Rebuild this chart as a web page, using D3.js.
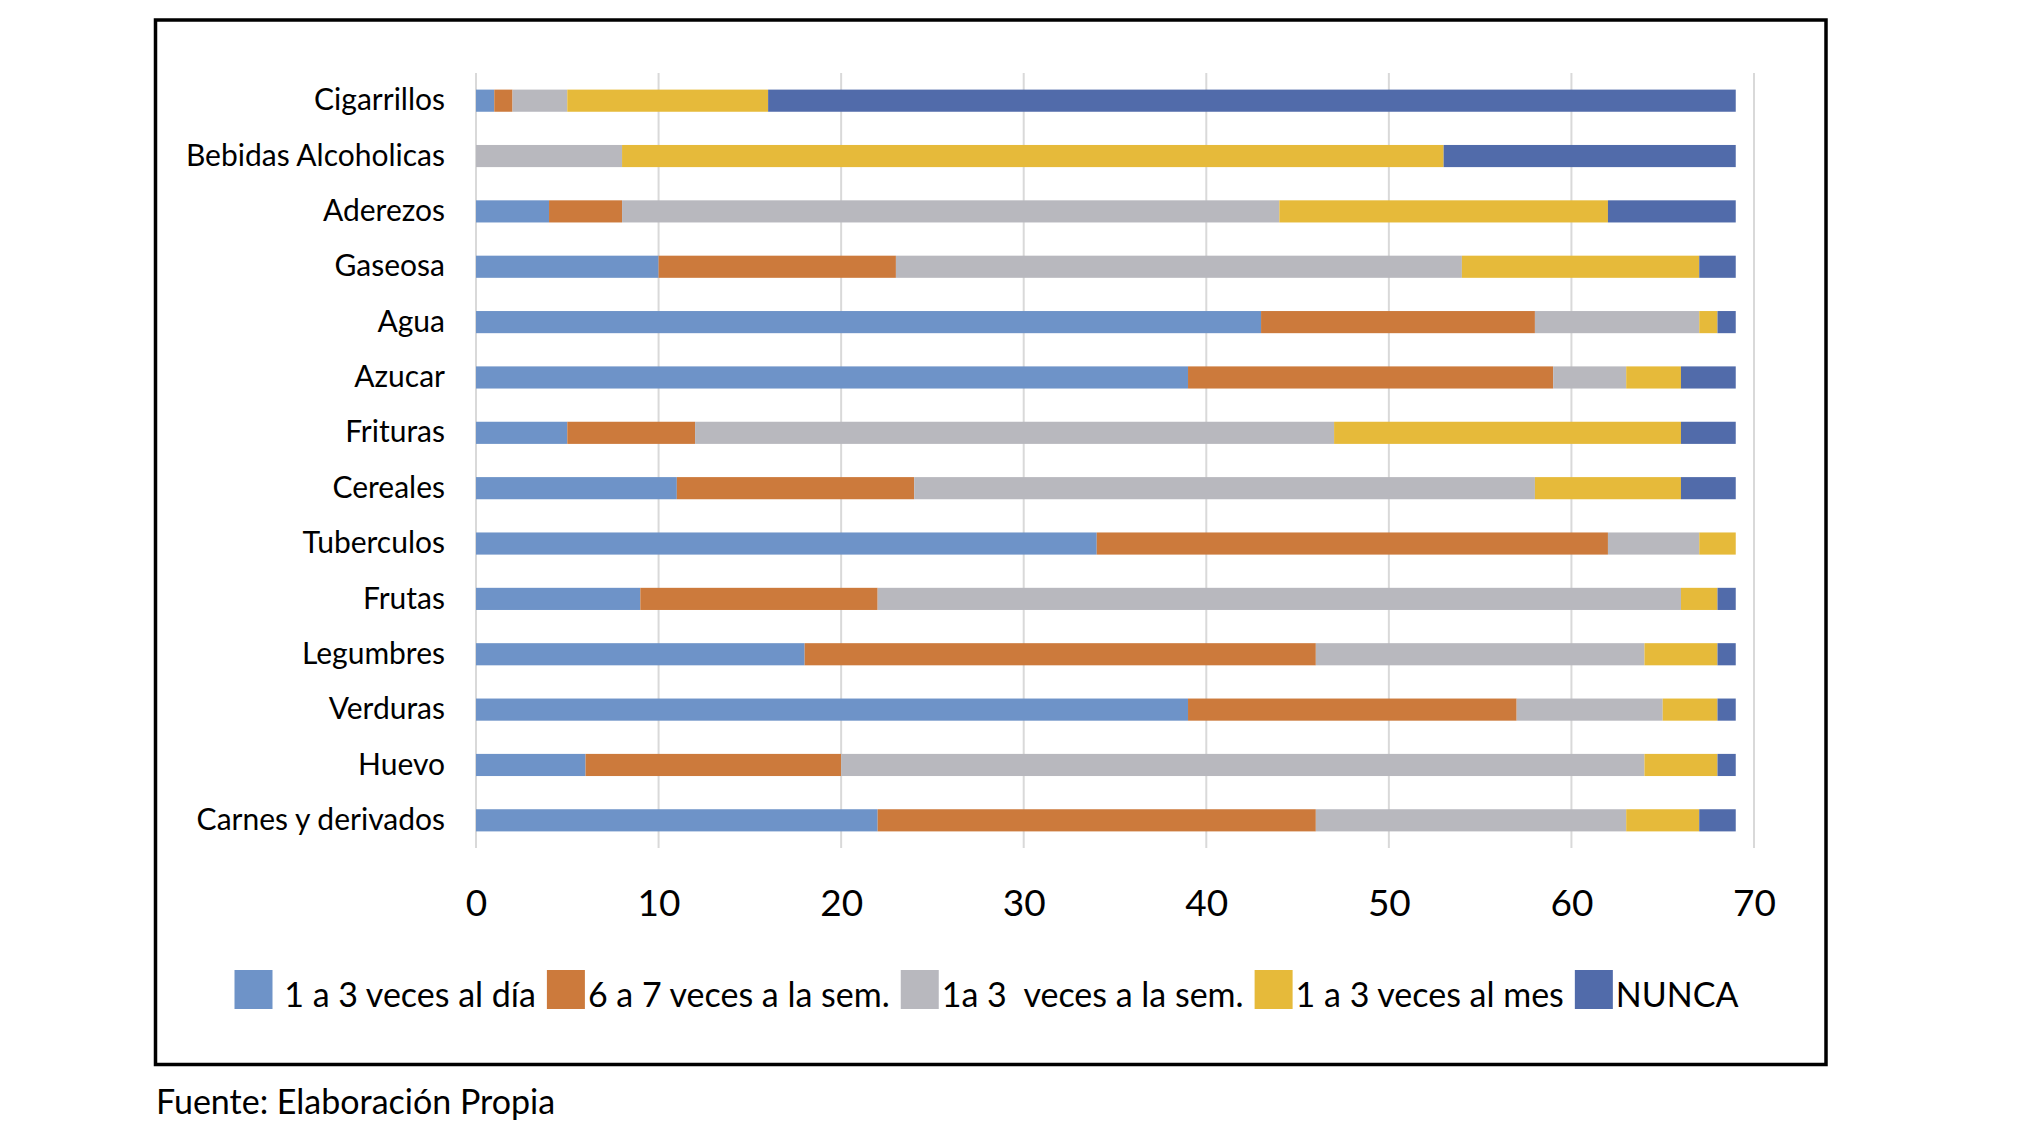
<!DOCTYPE html>
<html>
<head>
<meta charset="utf-8">
<script src="https://cdn.jsdelivr.net/npm/d3@7"></script>
<style>
  html, body { margin: 0; padding: 0; background: #fff; }
  svg { display: block; }
  text { font-family: Lato, "Open Sans", sans-serif; fill: #000; }
</style>
</head>
<body>
<svg id="chart" width="2036" height="1134"></svg>
<script>
// ---- data (top to bottom as drawn) ----
const categories = ["Cigarrillos","Bebidas Alcoholicas","Aderezos","Gaseosa","Agua","Azucar","Frituras","Cereales","Tuberculos","Frutas","Legumbres","Verduras","Huevo","Carnes y derivados"];
const seriesNames = [" 1 a 3 veces al día","6 a 7 veces a la sem.","1a 3  veces a la sem.","1 a 3 veces al mes","NUNCA"];
const unoTresDia   = [1, 0, 4, 10, 43, 39, 5, 11, 34, 9, 18, 39, 6, 22];
const seisSieteSem = [1, 0, 4, 13, 15, 20, 7, 13, 28, 13, 28, 18, 14, 24];
const unoTresSem   = [3, 8, 36, 31, 9, 4, 35, 34, 5, 44, 18, 8, 44, 17];
const unoTresMes   = [11, 45, 18, 13, 1, 3, 19, 8, 2, 2, 4, 3, 4, 4];
const nunca        = [53, 16, 7, 2, 1, 3, 3, 3, 0, 1, 1, 1, 1, 2];
const xTicks = [0, 10, 20, 30, 40, 50, 60, 70];
const sourceNote = "Fuente: Elaboración Propia";

const colors = ["#6E93C8", "#CC7A3C", "#B8B8BE", "#E6BA3A", "#516BAA"];
const seriesValues = [unoTresDia, seisSieteSem, unoTresSem, unoTresMes, nunca];

const rows = categories.map((c, i) => {
  const r = { cat: c };
  seriesNames.forEach((s, j) => r[s] = seriesValues[j][i]);
  return r;
});
const stacked = d3.stack().keys(seriesNames)(rows);

const svg = d3.select("#chart");

// outer frame
svg.append("rect")
  .attr("x", 155.5).attr("y", 20).attr("width", 1670.5).attr("height", 1044.5)
  .attr("fill", "none").attr("stroke", "#000").attr("stroke-width", 3.5);

const x = d3.scaleLinear().domain([0, 70]).range([476, 1754]);
const y = d3.scaleBand().domain(categories).range([73, 848]).paddingInner(0.6).paddingOuter(0.3);

// gridlines
svg.append("g").selectAll("line").data(xTicks).join("line")
  .attr("x1", d => x(d)).attr("x2", d => x(d))
  .attr("y1", 73).attr("y2", 848)
  .attr("stroke", "#D9D9D9").attr("stroke-width", 2);

// bars
svg.append("g").selectAll("g").data(stacked).join("g")
  .attr("fill", (d, i) => colors[i])
  .selectAll("rect").data(d => d).join("rect")
  .attr("x", d => x(d[0]))
  .attr("width", d => x(d[1]) - x(d[0]))
  .attr("y", d => y(d.data.cat))
  .attr("height", y.bandwidth());

// category axis labels
const yAxis = d3.axisLeft(y).tickSize(0).tickPadding(31);
const gy = svg.append("g").attr("transform", `translate(${x(0)},0)`).call(yAxis);
gy.select(".domain").remove();
gy.selectAll("text").style("font-size", "30px").style("font-family", "Lato, sans-serif").attr("fill", "#000");

// x axis tick labels
const xAxis = d3.axisBottom(x).tickValues(xTicks).tickSize(0).tickPadding(0).tickFormat(d3.format("d"));
const gx = svg.append("g").attr("transform", `translate(0,903)`).call(xAxis);
gx.select(".domain").remove();
gx.selectAll("text").attr("dy", "0.35em").attr("y", 0)
  .style("font-size", "37px").style("font-family", "Lato, sans-serif").attr("fill", "#000");

// legend
const legend = svg.append("g");
const sw = 38, swH = 39, legY = 970;
let cx = 0;
seriesNames.forEach((s, i) => {
  const g = legend.append("g");
  g.append("rect").attr("x", cx).attr("y", legY).attr("width", sw).attr("height", swH).attr("fill", colors[i]);
  const t = g.append("text").attr("x", cx + sw + 3).attr("y", legY + 37)
    .style("font-size", "34px").style("white-space", "pre").text(s);
  const w = t.node().getComputedTextLength();
  cx += sw + 3 + w + 11;
});
const legW = cx - 11;
const legCenter = (237 + 1736) / 2;
legend.attr("transform", `translate(${legCenter - legW / 2},0)`);

// source note
svg.append("text").attr("x", 156).attr("y", 1114)
  .style("font-size", "34px").text(sourceNote);
</script>
</body>
</html>
